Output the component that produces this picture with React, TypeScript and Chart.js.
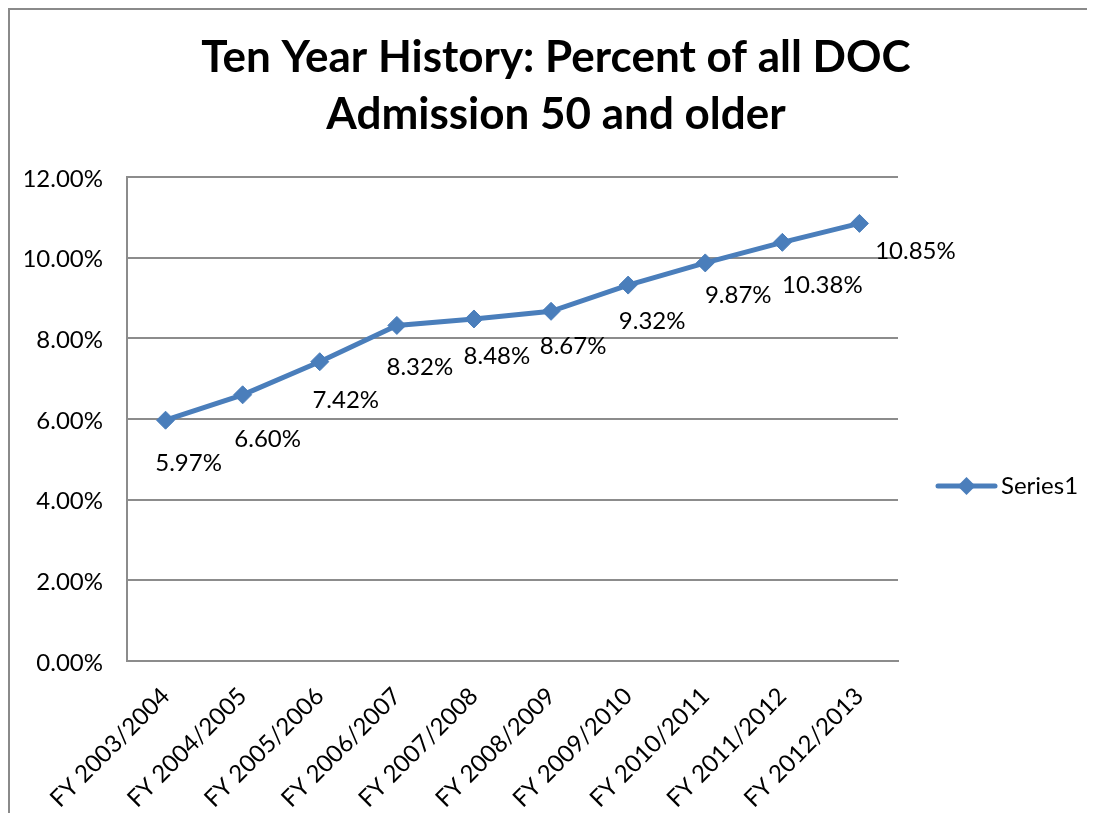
import { useEffect, useRef } from 'react';
import { Chart, registerables } from 'chart.js';

Chart.register(...registerables);

const categories = [
  'FY 2003/2004',
  'FY 2004/2005',
  'FY 2005/2006',
  'FY 2006/2007',
  'FY 2007/2008',
  'FY 2008/2009',
  'FY 2009/2010',
  'FY 2010/2011',
  'FY 2011/2012',
  'FY 2012/2013',
];
const percentValues = [5.97, 6.6, 7.42, 8.32, 8.48, 8.67, 9.32, 9.87, 10.38, 10.85];
const yTickValues = [0, 2, 4, 6, 8, 10, 12];
const seriesName = 'Series1';
const titleLines = ['Ten Year History: Percent of all DOC', 'Admission 50 and older'];

// label placement relative to each point (layout only)
const labelOffsets: [number, number][] = [
  [23, 43], [25, 44], [26, 39], [23, 42], [23, 37],
  [22, 35], [24, 36], [33, 32], [40, 43], [56, 28],
];

const FONT = 'Lato, "Open Sans", sans-serif';
const LINE_COLOR = '#4A7EBB';
const GRID_COLOR = '#8c8c8c';

const decorPlugin = {
  id: 'decor',
  beforeDraw(chart: any) {
    const ctx = chart.ctx;
    ctx.save();
    ctx.fillStyle = '#ffffff';
    ctx.fillRect(0, 0, chart.width, chart.height);
    ctx.fillStyle = '#8a8a8a';
    ctx.fillRect(0, 0, chart.width, 2);
    ctx.fillRect(0, 0, 2, chart.height);
    ctx.restore();
  },
  afterDatasetsDraw(chart: any) {
    const ctx = chart.ctx;
    const meta = chart.getDatasetMeta(0);
    const ds = chart.data.datasets[0];
    ctx.save();
    ctx.font = `24px ${FONT}`;
    ctx.fillStyle = '#000000';
    ctx.textAlign = 'center';
    ctx.textBaseline = 'middle';
    meta.data.forEach((pt: any, i: number) => {
      const v = ds.data[i] as number;
      const [dx, dy] = labelOffsets[i] || [22, 40];
      ctx.fillText(v.toFixed(2) + '%', pt.x + dx, pt.y + dy);
    });

    // legend
    const area = chart.chartArea;
    const lx1 = area.right + 40;
    const lx2 = lx1 + 57;
    const ly = (area.top + area.bottom) / 2 + 67;
    ctx.strokeStyle = ds.borderColor;
    ctx.lineWidth = ds.borderWidth;
    ctx.lineCap = 'round';
    ctx.beginPath();
    ctx.moveTo(lx1, ly);
    ctx.lineTo(lx2, ly);
    ctx.stroke();
    const cx = (lx1 + lx2) / 2;
    const r = 9;
    ctx.fillStyle = ds.pointBackgroundColor;
    ctx.beginPath();
    ctx.moveTo(cx - r, ly);
    ctx.lineTo(cx, ly - r);
    ctx.lineTo(cx + r, ly);
    ctx.lineTo(cx, ly + r);
    ctx.closePath();
    ctx.fill();
    ctx.fillStyle = '#000000';
    ctx.textAlign = 'left';
    ctx.fillText(seriesName, lx2 + 6, ly);
    ctx.restore();
  },
};

export default function App() {
  const ref = useRef<HTMLCanvasElement | null>(null);
  useEffect(() => {
    if (!ref.current) return;
    const chart = new Chart(ref.current, {
      type: 'line',
      data: {
        labels: categories,
        datasets: [
          {
            label: seriesName,
            data: percentValues,
            borderColor: LINE_COLOR,
            backgroundColor: LINE_COLOR,
            borderWidth: 5,
            tension: 0,
            pointStyle: 'rectRot',
            pointRadius: 9,
            pointBackgroundColor: LINE_COLOR,
            pointBorderColor: LINE_COLOR,
            pointBorderWidth: 1,
            yAxisID: 'y',
          },
        ],
      },
      options: {
        responsive: false,
        animation: false,
        devicePixelRatio: 1,
        layout: { padding: { left: 17, right: 0, top: 0, bottom: 0 } },
        plugins: {
          legend: { display: false },
          tooltip: { enabled: false },
          title: {
            display: true,
            text: titleLines,
            color: '#000000',
            font: { family: FONT, weight: 'bold', size: 44, lineHeight: 57 / 44 },
            padding: { top: 21, bottom: 34 },
          },
        },
        scales: {
          x: {
            offset: true,
            grid: { display: false, drawTicks: false },
            border: { display: true, color: GRID_COLOR, width: 2 },
            ticks: {
              autoSkip: false,
              minRotation: 45,
              maxRotation: 45,
              color: '#000000',
              font: { family: FONT, size: 24 },
              padding: 21,
            },
            afterFit: (s: any) => {
              s.height = 152;
            },
          },
          y: {
            min: 0,
            max: 12,
            afterBuildTicks: (s: any) => {
              s.ticks = yTickValues.map((v) => ({ value: v }));
            },
            grid: { color: GRID_COLOR, lineWidth: 2, drawTicks: false, tickLength: 0 },
            border: { display: true, color: GRID_COLOR, width: 2 },
            ticks: {
              color: '#000000',
              font: { family: FONT, size: 24 },
              padding: 24,
              labelOffset: 2,
              callback: (v: any) => Number(v).toFixed(2) + '%',
            },
            afterFit: (s: any) => {
              s.width = 102;
            },
          },
          yRight: {
            type: 'linear',
            axis: 'y',
            position: 'right',
            display: true,
            grid: { display: false, drawTicks: false },
            border: { display: false },
            ticks: { display: false },
            afterFit: (s: any) => {
              s.width = 189;
            },
          },
        },
      },
      plugins: [decorPlugin],
    } as any);
    const fonts: any = (document as any).fonts;
    if (fonts && fonts.load) {
      Promise.all([fonts.load(`bold 44px Lato`), fonts.load(`24px Lato`)]).then(() => chart.update());
    }
    return () => chart.destroy();
  }, []);
  return (
    <div style={{ width: 1079, height: 805, position: 'relative' }}>
      <canvas ref={ref} width={1079} height={805} style={{ display: 'block', width: 1079, height: 805 }} />
    </div>
  );
}
